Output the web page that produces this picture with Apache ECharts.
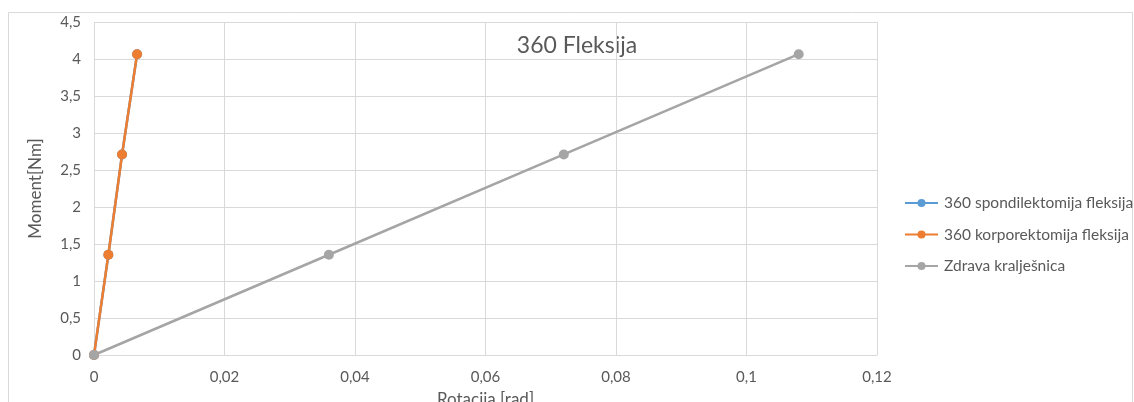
<!DOCTYPE html>
<html>
<head>
<meta charset="utf-8">
<script src="https://cdn.jsdelivr.net/npm/echarts@6/dist/echarts.min.js"></script>
<style>
  html, body { margin: 0; padding: 0; background: #fff; }
  #chart { width: 1134px; height: 402px; }
</style>
</head>
<body>
<div id="chart"></div>
<script>
// Rotation [rad] / moment [Nm] pairs for each configuration
const spondilektomijaRot = [0, 0.0022, 0.0043, 0.0066];
const spondilektomijaMom = [0, 1.355, 2.71, 4.065];
const korporektomijaRot = [0, 0.0022, 0.0043, 0.0066];
const korporektomijaMom = [0, 1.355, 2.71, 4.065];
const zdravaRot = [0, 0.036, 0.072, 0.108];
const zdravaMom = [0, 1.355, 2.71, 4.065];

const seriesNames = ['360 spondilektomija fleksija', '360 korporektomija fleksija', 'Zdrava kralješnica'];
const seriesColors = ['#5b9bd5', '#ed7d31', '#a5a5a5'];

const FONT = 'Lato, "Open Sans", sans-serif';
const TEXT = '#595959';
const GRID = '#d9d9d9';

const pairs = (xs, ys) => xs.map((x, i) => [x, ys[i]]);
const comma = v => String(+v.toFixed(4)).replace('.', ',');

const chart = echarts.init(document.getElementById('chart'));

function lineSeries(name, color, data) {
  return {
    name, type: 'line', data,
    symbol: 'circle', symbolSize: 10,
    lineStyle: { width: 2.5, color },
    itemStyle: { color },
    emphasis: { disabled: true },
    animation: false
  };
}

chart.setOption({
  animation: false,
  textStyle: { fontFamily: FONT },
  grid: { left: 94, right: 257, top: 22, bottom: 47, containLabel: false, outerBoundsMode: 'none' },
  graphic: [
    {
      type: 'rect', silent: true,
      shape: { x: 8.5, y: 12.5, width: 1124, height: 400 },
      style: { fill: 'none', stroke: '#d9d9d9', lineWidth: 1 }
    },
    {
      type: 'text', silent: true, x: 577, y: 46,
      style: { text: '360 Fleksija', fontSize: 23, fontFamily: FONT, fill: TEXT, align: 'center', verticalAlign: 'middle' }
    }
  ],
  legend: {
    orient: 'vertical', left: 904, top: 195, width: 230, padding: 0,
    itemWidth: 33, itemHeight: 10, itemGap: 15.5,
    data: seriesNames,
    textStyle: { color: TEXT, fontSize: 15.5, fontFamily: FONT, padding: [0, 0, 0, 1] },
    selectedMode: false
  },
  xAxis: {
    type: 'value', min: 0, max: 0.12, interval: 0.02,
    name: 'Rotacija [rad]', nameLocation: 'middle', nameGap: 36,
    nameTextStyle: { color: TEXT, fontSize: 17, fontFamily: FONT },
    axisLine: { show: true, lineStyle: { color: GRID, width: 1 } },
    axisTick: { show: false },
    axisLabel: { color: TEXT, fontSize: 15, fontFamily: FONT, margin: 15, formatter: comma },
    splitLine: { show: true, lineStyle: { color: GRID, width: 1 } }
  },
  yAxis: {
    type: 'value', min: 0, max: 4.5, interval: 0.5,
    name: 'Moment[Nm]', nameLocation: 'middle', nameGap: 50,
    nameTextStyle: { color: TEXT, fontSize: 17, fontFamily: FONT },
    axisLine: { show: false },
    axisTick: { show: false },
    axisLabel: { color: TEXT, fontSize: 15, fontFamily: FONT, margin: 13, formatter: comma },
    splitLine: { show: true, lineStyle: { color: GRID, width: 1 } }
  },
  series: [
    lineSeries(seriesNames[0], seriesColors[0], pairs(spondilektomijaRot, spondilektomijaMom)),
    lineSeries(seriesNames[1], seriesColors[1], pairs(korporektomijaRot, korporektomijaMom)),
    lineSeries(seriesNames[2], seriesColors[2], pairs(zdravaRot, zdravaMom))
  ]
});
</script>
</body>
</html>
